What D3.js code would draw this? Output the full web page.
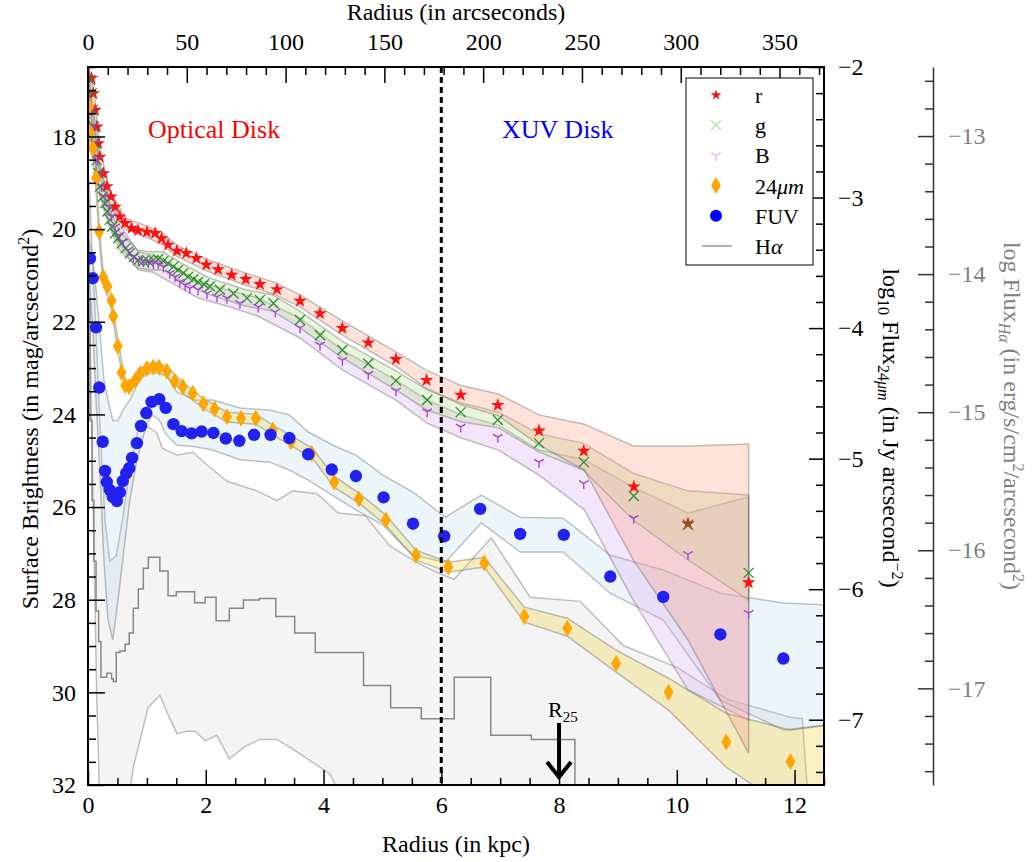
<!DOCTYPE html>
<html>
<head>
<meta charset="utf-8">
<script src="https://cdn.jsdelivr.net/npm/d3@7"></script>
<style>
  body { margin: 0; background: #fff; }
  svg text { font-family: "Liberation Serif", "DejaVu Serif", serif; }
</style>
</head>
<body>
<svg id="chart" width="1035" height="862"></svg>
<script>
// profiles: [radius kpc, value]
const rProfile = [[0.06,16.74],[0.09,17.07],[0.12,17.43],[0.15,17.79],[0.175,18.15],[0.20,18.44],[0.26,18.80],[0.32,19.08],[0.39,19.30],[0.46,19.52],[0.54,19.73],[0.63,19.87],[0.74,19.98],[0.85,20.03],[1.00,20.06],[1.14,20.09],[1.25,20.20],[1.36,20.34],[1.51,20.47],[1.67,20.52],[1.84,20.63],[2.01,20.77],[2.21,20.87],[2.44,20.99],[2.68,21.08],[2.92,21.19],[3.21,21.30],[3.60,21.55],[3.94,21.82],[4.32,22.14],[4.76,22.45],[5.23,22.81],[5.75,23.26],[6.33,23.58],[6.96,23.80],[7.66,24.35],[8.42,24.79],[9.27,25.56],[10.19,26.36],[11.22,27.63]];
const gProfile = [[0.034,16.78],[0.063,17.07],[0.08,17.43],[0.10,17.79],[0.12,18.15],[0.148,18.51],[0.175,18.79],[0.204,19.08],[0.25,19.30],[0.29,19.44],[0.33,19.62],[0.37,19.80],[0.41,19.95],[0.46,20.09],[0.51,20.20],[0.57,20.31],[0.64,20.41],[0.71,20.52],[0.78,20.60],[0.85,20.67],[0.94,20.69],[1.02,20.69],[1.11,20.67],[1.19,20.65],[1.28,20.69],[1.36,20.74],[1.45,20.81],[1.53,20.88],[1.62,20.95],[1.70,21.03],[1.79,21.08],[1.87,21.14],[1.97,21.19],[2.07,21.24],[2.24,21.31],[2.47,21.39],[2.70,21.49],[2.92,21.53],[3.15,21.60],[3.60,21.96],[3.94,22.29],[4.32,22.61],[4.76,22.90],[5.23,23.27],[5.76,23.69],[6.33,23.95],[6.96,24.12],[7.66,24.62],[8.42,25.03],[9.27,25.76],[10.19,26.38],[11.22,27.42]];
const bProfile = [[0.063,17.43],[0.09,17.79],[0.12,18.15],[0.158,18.51],[0.19,18.83],[0.23,19.08],[0.29,19.30],[0.345,19.52],[0.40,19.73],[0.46,19.95],[0.53,20.13],[0.60,20.27],[0.685,20.45],[0.77,20.60],[0.855,20.67],[0.94,20.70],[1.025,20.72],[1.11,20.74],[1.195,20.75],[1.28,20.81],[1.39,20.95],[1.48,21.03],[1.56,21.14],[1.65,21.21],[1.73,21.28],[1.87,21.31],[2.02,21.39],[2.19,21.46],[2.36,21.49],[2.58,21.60],[2.89,21.68],[3.18,21.79],[3.60,22.13],[3.94,22.50],[4.32,22.83],[4.76,23.13],[5.23,23.49],[5.76,23.94],[6.33,24.27],[6.96,24.49],[7.66,25.03],[8.42,25.49],[9.27,26.24],[10.19,27.02],[11.22,28.29]];
// 24 micron: [radius kpc, log10 flux]
const mips24 = [[0.02,-2.30],[0.034,-2.50],[0.08,-2.62],[0.136,-2.85],[0.19,-3.26],[0.26,-3.61],[0.33,-3.68],[0.40,-3.79],[0.43,-3.91],[0.505,-4.14],[0.57,-4.34],[0.63,-4.44],[0.70,-4.45],[0.80,-4.40],[0.88,-4.35],[1.00,-4.31],[1.11,-4.30],[1.21,-4.30],[1.34,-4.33],[1.47,-4.41],[1.61,-4.45],[1.78,-4.50],[1.96,-4.58],[2.15,-4.62],[2.36,-4.68],[2.60,-4.69],[2.85,-4.69],[3.14,-4.78],[3.45,-4.87],[3.80,-4.96],[4.18,-5.18],[4.60,-5.31],[5.06,-5.47],[5.57,-5.74],[6.12,-5.83],[6.73,-5.80],[7.41,-6.21],[8.14,-6.30],[8.97,-6.57],[9.86,-6.79],[10.84,-7.17],[11.93,-7.32]];
const fuvProfile = [[0.034,20.63],[0.08,21.06],[0.136,22.12],[0.19,23.42],[0.25,24.59],[0.29,25.22],[0.32,25.46],[0.37,25.63],[0.42,25.78],[0.49,25.87],[0.54,25.68],[0.59,25.44],[0.65,25.27],[0.70,25.16],[0.75,24.94],[0.83,24.62],[0.90,24.25],[0.99,23.97],[1.08,23.73],[1.21,23.67],[1.32,23.86],[1.45,24.21],[1.59,24.36],[1.76,24.41],[1.93,24.37],[2.13,24.40],[2.34,24.52],[2.57,24.57],[2.82,24.44],[3.10,24.44],[3.42,24.51],[3.74,24.86],[4.14,25.19],[4.55,25.33],[5.02,25.79],[5.52,26.36],[6.05,26.63],[6.66,26.04],[7.34,26.58],[8.08,26.60],[8.87,27.50],[9.77,27.94],[10.74,28.75],[11.81,29.27]];
// H alpha histogram: [bin start kpc, log flux]
const haSteps = [[0,-14.19],[0.034,-15.06],[0.068,-15.64],[0.10,-16.08],[0.136,-16.44],[0.18,-16.66],[0.22,-16.92],[0.32,-16.89],[0.40,-16.93],[0.43,-16.95],[0.48,-16.74],[0.54,-16.73],[0.63,-16.68],[0.70,-16.60],[0.77,-16.42],[0.855,-16.28],[0.94,-16.13],[1.025,-16.05],[1.11,-16.05],[1.22,-16.15],[1.36,-16.33],[1.50,-16.30],[1.81,-16.38],[1.99,-16.34],[2.175,-16.51],[2.40,-16.42],[2.64,-16.36],[2.91,-16.35],[3.19,-16.48],[3.51,-16.60],[3.86,-16.74],[4.68,-16.98],[5.14,-17.14],[5.66,-17.22],[6.22,-16.92],[6.84,-17.34],[7.53,-17.37],[8.27,-17.85]];

// uncertainty bands: [radius kpc, bright edge, faint edge]
const rBand = [[0.02,16.52,16.91],[0.12,17.21,17.64],[0.20,18.25,18.62],[0.37,19.16,19.44],[0.63,19.76,20.00],[0.99,19.93,20.17],[1.24,20.06,20.32],[1.50,20.34,20.58],[2.01,20.65,20.90],[2.68,20.95,21.21],[3.19,21.16,21.42],[3.60,21.42,21.68],[4.32,21.98,22.29],[5.23,22.65,22.96],[5.74,23.04,23.43],[6.32,23.37,23.78],[6.97,23.56,24.03],[7.66,24.01,24.66],[8.43,24.21,25.20],[9.26,24.68,27.14],[10.19,24.68,28.87],[11.22,24.64,31.31]];
const gBand = [[0.02,16.61,17.04],[0.12,17.86,18.40],[0.20,18.85,19.28],[0.37,19.59,19.98],[0.54,20.06,20.45],[0.85,20.45,20.84],[1.05,20.49,20.88],[1.27,20.49,20.88],[1.61,20.75,21.14],[2.07,21.06,21.42],[2.68,21.31,21.66],[3.14,21.42,21.77],[3.60,21.77,22.13],[4.32,22.42,22.78],[5.23,23.06,23.47],[5.76,23.47,23.91],[6.34,23.75,24.16],[6.97,23.95,24.29],[7.66,24.42,24.81],[8.41,24.62,25.20],[9.26,25.27,26.28],[10.19,25.65,27.14],[11.22,25.74,28.01]];
const bBand = [[0.02,17.10,17.64],[0.12,17.97,18.40],[0.20,18.72,19.16],[0.37,19.48,19.91],[0.54,19.91,20.34],[0.85,20.49,20.88],[1.10,20.56,20.93],[1.39,20.75,21.14],[1.87,21.14,21.49],[2.36,21.31,21.66],[2.89,21.49,21.88],[3.60,21.92,22.35],[4.32,22.61,23.04],[5.23,23.26,23.69],[5.76,23.69,24.19],[6.34,24.01,24.51],[6.97,24.23,24.77],[7.66,24.77,25.31],[8.43,24.98,26.06],[9.26,25.57,28.01],[10.19,26.13,29.95],[11.22,25.78,30.60]];
const mipsBand = [[0.02,-2.215,-2.559],[0.085,-2.559,-2.713],[0.136,-2.789,-2.943],[0.19,-3.211,-3.326],[0.255,-3.556,-3.663],[0.39,-3.747,-3.831],[0.51,-4.092,-4.184],[0.63,-4.398,-4.475],[0.71,-4.414,-4.490],[0.88,-4.307,-4.383],[1.10,-4.261,-4.337],[1.34,-4.291,-4.368],[1.61,-4.414,-4.490],[1.95,-4.536,-4.613],[2.36,-4.644,-4.720],[2.85,-4.659,-4.736],[3.14,-4.743,-4.820],[3.81,-4.920,-4.996],[4.18,-5.134,-5.218],[4.60,-5.264,-5.341],[5.06,-5.433,-5.510],[5.57,-5.701,-5.778],[6.12,-5.793,-5.870],[6.73,-5.755,-5.831],[7.41,-6.138,-6.253],[8.14,-6.222,-6.360],[8.97,-6.467,-6.636],[9.86,-6.682,-6.927],[10.84,-6.950,-7.364],[11.93,-7.080,-7.693],[12.52,-7.042,-7.693]];
const fuvBand = [[0.02,20.23,21.10],[0.085,20.67,22.18],[0.136,21.31,23.69],[0.20,22.18,25.20],[0.27,23.26,27.14],[0.34,23.69,28.44],[0.42,24.13,28.87],[0.51,24.13,28.01],[0.59,23.91,27.14],[0.71,23.69,25.85],[0.83,23.37,24.98],[0.99,23.04,24.23],[1.09,22.93,24.01],[1.21,22.87,24.12],[1.33,23.15,24.44],[1.51,23.52,24.66],[1.82,23.69,24.70],[2.12,23.69,24.77],[2.58,23.86,24.98],[3.09,23.91,25.03],[3.42,24.01,25.20],[3.74,24.38,25.42],[4.15,24.66,25.74],[4.55,24.88,26.06],[5.01,25.31,26.39],[5.52,25.68,27.04],[6.07,26.22,27.19],[6.68,25.74,26.34],[7.34,26.22,26.97],[8.07,26.24,26.97],[8.87,27.04,27.86],[9.77,27.36,28.44],[10.74,27.86,30.17],[11.81,28.07,30.81],[12.52,28.11,30.71]];
const haUpper = [[0.02,-13.32],[0.068,-13.83],[0.136,-14.41],[0.20,-15.06],[0.29,-15.79],[0.37,-16.08],[0.48,-16.04],[0.58,-15.79],[0.71,-15.42],[0.88,-15.06],[1.00,-15.10],[1.17,-15.15],[1.26,-15.26],[1.51,-15.31],[1.78,-15.29],[1.99,-15.37],[2.36,-15.50],[2.87,-15.57],[3.21,-15.64],[3.48,-15.57],[3.89,-15.59],[4.25,-15.73],[4.71,-15.75],[5.13,-15.97],[5.59,-16.09],[5.98,-16.17],[6.22,-16.21],[6.85,-15.91],[7.51,-16.34],[8.36,-16.37],[9.09,-16.69],[10.01,-16.85],[10.86,-17.08],[11.93,-17.21],[12.13,-17.22],[12.23,-17.80]];
const haLower = [[0.02,-14.19],[0.085,-15.64],[0.15,-17.09],[0.20,-17.85],[0.68,-17.85],[0.765,-17.58],[1.02,-17.14],[1.22,-17.05],[1.36,-17.19],[1.51,-17.33],[1.68,-17.31],[1.82,-17.31],[1.99,-17.38],[2.19,-17.34],[2.40,-17.51],[2.67,-17.42],[2.92,-17.37],[3.21,-17.37],[3.48,-17.44],[4.11,-17.62],[4.37,-17.85],[12.23,-17.85]];

const kpcTicks = [0, 2, 4, 6, 8, 10, 12];
const arcsecTicks = [0, 50, 100, 150, 200, 250, 300, 350];
const magTicks = [18, 20, 22, 24, 26, 28, 30, 32];
const flux24Ticks = [-2, -3, -4, -5, -6, -7];
const haTicks = [-13, -14, -15, -16, -17];
const diskEdge = 6;   // kpc, optical / XUV boundary
const r25 = 8;        // kpc

const margin = {top: 67, right: 211, bottom: 77, left: 88};
const width = 1035 - margin.left - margin.right;
const height = 862 - margin.top - margin.bottom;
const serif = "'Liberation Serif', 'DejaVu Serif', serif";

const svg = d3.select("#chart");
const g = svg.append("g").attr("transform", `translate(${margin.left},${margin.top})`);

const x = d3.scaleLinear().domain([0, 12.5]).range([0, width]);
const xArc = d3.scaleLinear().domain([0, 372.5]).range([0, width]);
const yMag = d3.scaleLinear().domain([16.5, 32]).range([0, height]);
const y24 = d3.scaleLinear().domain([-2, -7.5]).range([0, height]);
const yHa = d3.scaleLinear().domain([-12.5, -17.7]).range([0, height]);

g.append("clipPath").attr("id", "clip")
    .append("rect").attr("width", width).attr("height", height);
const plot = g.append("g").attr("clip-path", "url(#clip)");

function drawBand(points, yScale, fill, opacity) {
    const area = d3.area()
        .x(d => x(d[0]))
        .y0(d => yScale(d[1]))
        .y1(d => yScale(d[2]));
    plot.append("path")
        .attr("d", area(points))
        .attr("fill", fill)
        .attr("fill-opacity", opacity)
        .attr("stroke", "#666")
        .attr("stroke-opacity", 0.4)
        .attr("stroke-width", 1.5);
}

// H alpha band as polygon
const haPoly = haUpper.concat(haLower.slice().reverse());
plot.append("path")
    .attr("d", d3.line().x(d => x(d[0])).y(d => yHa(d[1]))(haPoly) + "Z")
    .attr("fill", "#d8d8d8")
    .attr("fill-opacity", 0.28)
    .attr("stroke", "#666")
    .attr("stroke-opacity", 0.4)
    .attr("stroke-width", 1.5);

drawBand(fuvBand, yMag, "#a8d4e6", 0.22);
drawBand(mipsBand, y24, "#f0d23c", 0.3);
drawBand(bBand, yMag, "#d8a8f0", 0.3);
drawBand(gBand, yMag, "#b4e08c", 0.32);
drawBand(rBand, yMag, "#ffa080", 0.3);

// H alpha histogram
plot.append("path")
    .attr("d", d3.line().curve(d3.curveStepAfter).x(d => x(d[0])).y(d => yHa(d[1]))(haSteps))
    .attr("fill", "none")
    .attr("stroke", "#888")
    .attr("stroke-width", 1.5);

// disk boundary
g.append("line")
    .attr("x1", x(diskEdge)).attr("x2", x(diskEdge))
    .attr("y1", 0).attr("y2", height)
    .attr("stroke", "#000")
    .attr("stroke-width", 3)
    .attr("stroke-dasharray", "6,4");

// markers
const starPath = d3.symbol(d3.symbolStar).size(58)();
const crossPath = "M-5,-5L5,5M-5,5L5,-5";
const triPath = "M0,0L0,5.5M0,0L-4.8,-2.8M0,0L4.8,-2.8";
const diamondPath = "M0,-8.5L5,0L0,8.5L-5,0Z";

plot.append("g").selectAll("path").data(rProfile).join("path")
    .attr("transform", d => `translate(${x(d[0])},${yMag(d[1])})`)
    .attr("d", starPath)
    .attr("fill", "#ff1010");

plot.append("g").selectAll("path").data(gProfile).join("path")
    .attr("transform", d => `translate(${x(d[0])},${yMag(d[1])})`)
    .attr("d", crossPath)
    .attr("fill", "none")
    .attr("stroke", "#2e8b2e")
    .attr("stroke-width", 1.3);

plot.append("g").selectAll("path").data(bProfile).join("path")
    .attr("transform", d => `translate(${x(d[0])},${yMag(d[1])})`)
    .attr("d", triPath)
    .attr("fill", "none")
    .attr("stroke", "#a23ed8")
    .attr("stroke-width", 1.3);

plot.append("g").selectAll("path").data(mips24).join("path")
    .attr("transform", d => `translate(${x(d[0])},${y24(d[1])})`)
    .attr("d", diamondPath)
    .attr("fill", "#ffa500");

plot.append("g").selectAll("circle").data(fuvProfile).join("circle")
    .attr("cx", d => x(d[0]))
    .attr("cy", d => yMag(d[1]))
    .attr("r", 6.2)
    .attr("fill", "#2222f0");

// annotations
g.append("text").attr("x", 60).attr("y", 71)
    .attr("font-size", 26).attr("fill", "#ff0000").text("Optical Disk");
g.append("text").attr("x", 414).attr("y", 71)
    .attr("font-size", 26).attr("fill", "#0000ff").text("XUV Disk");

const r25Label = g.append("text").attr("x", x(r25) - 11).attr("y", 650).attr("font-size", 22);
r25Label.append("tspan").text("R");
r25Label.append("tspan").attr("font-size", 15).attr("dy", 5).text("25");
g.append("line")
    .attr("x1", x(r25)).attr("x2", x(r25))
    .attr("y1", 656).attr("y2", 708)
    .attr("stroke", "#000").attr("stroke-width", 4);
g.append("path")
    .attr("d", `M${x(r25) - 12},${695}L${x(r25)},${710}L${x(r25) + 12},${695}`)
    .attr("fill", "none").attr("stroke", "#000").attr("stroke-width", 4);

// axes
function styleAxis(sel, color) {
    sel.attr("font-family", serif);
    sel.selectAll(".tick line").attr("stroke", color).attr("stroke-width", 1.5);
    sel.selectAll(".tick text")
        .style("font-family", serif)
        .attr("font-size", 24)
        .attr("fill", color);
}

const minorKpc = d3.range(0, 12.51, 0.5).filter(v => v % 2 !== 0);
const minorArc = d3.range(0, 371, 10).filter(v => v % 50 !== 0);
const minorMag = d3.range(16.5, 32.01, 0.5).filter(v => v % 2 !== 0);
const minor24 = d3.range(10, 38).filter(i => i % 5 !== 0).map(i => -i / 5);
const minorHa = d3.range(63, 89).filter(i => i % 5 !== 0).map(i => -i / 5);

const axisBottomG = g.append("g").attr("transform", `translate(0,${height})`)
    .call(d3.axisBottom(x).tickValues(kpcTicks).tickSize(-15).tickPadding(11).tickFormat(d3.format("d")));
axisBottomG.append("g").call(d3.axisBottom(x).tickValues(minorKpc).tickSize(-7).tickFormat(""));
axisBottomG.selectAll(".domain").remove();
styleAxis(axisBottomG, "#000");

const axisTopG = g.append("g")
    .call(d3.axisTop(xArc).tickValues(arcsecTicks).tickSize(-16).tickPadding(17).tickFormat(d3.format("d")));
axisTopG.append("g").call(d3.axisTop(xArc).tickValues(minorArc).tickSize(-8).tickFormat(""));
axisTopG.selectAll(".domain").remove();
styleAxis(axisTopG, "#000");

const axisLeftG = g.append("g")
    .call(d3.axisLeft(yMag).tickValues(magTicks).tickSize(-17).tickPadding(12).tickFormat(d3.format("d")));
axisLeftG.append("g").call(d3.axisLeft(yMag).tickValues(minorMag).tickSize(-8).tickFormat(""));
axisLeftG.selectAll(".domain").remove();
styleAxis(axisLeftG, "#000");

const axis24G = g.append("g").attr("transform", `translate(${width},0)`)
    .call(d3.axisRight(y24).tickValues(flux24Ticks).tickSize(-15).tickPadding(14).tickFormat(d3.format("d")));
axis24G.append("g").call(d3.axisRight(y24).tickValues(minor24).tickSize(-8).tickFormat(""));
axis24G.selectAll(".domain").remove();
styleAxis(axis24G, "#000");

// H alpha axis, detached to the right
const axisHaG = g.append("g").attr("transform", `translate(${width + 109},0)`)
    .call(d3.axisRight(yHa).tickValues(haTicks).tickSize(-15).tickSizeOuter(0).tickPadding(15).tickFormat(d3.format("d")));
const haMinor = axisHaG.append("g")
    .call(d3.axisRight(yHa).tickValues(minorHa).tickSize(-8).tickSizeOuter(0).tickFormat(""));
haMinor.select(".domain").remove();
styleAxis(axisHaG, "#808080");
axisHaG.select(".domain").attr("stroke", "#333").attr("stroke-width", 1.5);
axisHaG.selectAll(".tick line").attr("stroke", "#333");

// frame
g.append("rect")
    .attr("width", width).attr("height", height)
    .attr("fill", "none").attr("stroke", "#000").attr("stroke-width", 2);

// axis titles
svg.append("text").attr("x", margin.left + width / 2).attr("y", 852)
    .attr("text-anchor", "middle").attr("font-size", 24).text("Radius (in kpc)");
svg.append("text").attr("x", margin.left + width / 2).attr("y", 20)
    .attr("text-anchor", "middle").attr("font-size", 24).text("Radius (in arcseconds)");

const leftTitle = svg.append("text")
    .attr("transform", "translate(38,419) rotate(-90)")
    .attr("text-anchor", "middle").attr("font-size", 24);
leftTitle.append("tspan").text("Surface Brightness (in mag/arcsecond");
leftTitle.append("tspan").attr("font-size", 16).attr("dy", -9).text("2");
leftTitle.append("tspan").attr("dy", 9).text(")");

const t24 = svg.append("text")
    .attr("transform", "translate(883,428) rotate(90)")
    .attr("text-anchor", "middle").attr("font-size", 24);
t24.append("tspan").text("log");
t24.append("tspan").attr("font-size", 16).attr("dy", 5).text("10");
t24.append("tspan").attr("dy", -5).text(" Flux");
t24.append("tspan").attr("font-size", 16).attr("dy", 5).text("24");
t24.append("tspan").attr("font-size", 16).attr("font-style", "italic").text("μm");
t24.append("tspan").attr("dy", -5).text(" (in Jy arcsecond");
t24.append("tspan").attr("font-size", 16).attr("dy", -9).text("−2");
t24.append("tspan").attr("dy", 9).text(")");

const tHa = svg.append("text")
    .attr("transform", "translate(1004,416) rotate(90)")
    .attr("text-anchor", "middle").attr("font-size", 24).attr("fill", "#808080");
tHa.append("tspan").text("log Flux");
tHa.append("tspan").attr("font-size", 16).attr("dy", 5).attr("font-style", "italic").text("Hα");
tHa.append("tspan").attr("dy", -5).text(" (in erg/s/cm");
tHa.append("tspan").attr("font-size", 16).attr("dy", -9).text("2");
tHa.append("tspan").attr("dy", 9).text("/arcsecond");
tHa.append("tspan").attr("font-size", 16).attr("dy", -9).text("2");
tHa.append("tspan").attr("dy", 9).text(")");

// legend
const legendItems = [
    {label: "r", type: "star"},
    {label: "g", type: "cross"},
    {label: "B", type: "tri"},
    {label: "24μm", type: "diamond"},
    {label: "FUV", type: "circle"},
    {label: "Hα", type: "line"}
];
const legend = g.append("g").attr("transform", "translate(598,11)");
legend.append("rect").attr("width", 127).attr("height", 187)
    .attr("fill", "#fff").attr("stroke", "#000").attr("stroke-width", 1);
const rows = legend.selectAll("g.item").data(legendItems).join("g")
    .attr("class", "item")
    .attr("transform", (d, i) => `translate(30,${17 + i * 30.2})`);
rows.each(function (d) {
    const row = d3.select(this);
    if (d.type === "star") row.append("path").attr("d", d3.symbol(d3.symbolStar).size(35)()).attr("fill", "#ff1010");
    if (d.type === "cross") row.append("path").attr("d", crossPath).attr("stroke", "#a8d8a8").attr("stroke-width", 1.2);
    if (d.type === "tri") row.append("path").attr("d", triPath).attr("stroke", "#d8b0ee").attr("stroke-width", 1.2);
    if (d.type === "diamond") row.append("path").attr("d", diamondPath).attr("fill", "#ffa500");
    if (d.type === "circle") row.append("circle").attr("r", 6).attr("fill", "#0000ff");
    if (d.type === "line") row.append("line").attr("x1", -14).attr("x2", 16).attr("stroke", "#999").attr("stroke-width", 1.5);
    const label = row.append("text").attr("x", 39).attr("y", 8).attr("font-size", 22);
    if (d.label === "24μm") {
        label.append("tspan").text("24");
        label.append("tspan").attr("font-style", "italic").text("μm");
    } else if (d.label === "Hα") {
        label.append("tspan").text("H");
        label.append("tspan").attr("font-style", "italic").text("α");
    } else {
        label.text(d.label);
    }
});
</script>
</body>
</html>
